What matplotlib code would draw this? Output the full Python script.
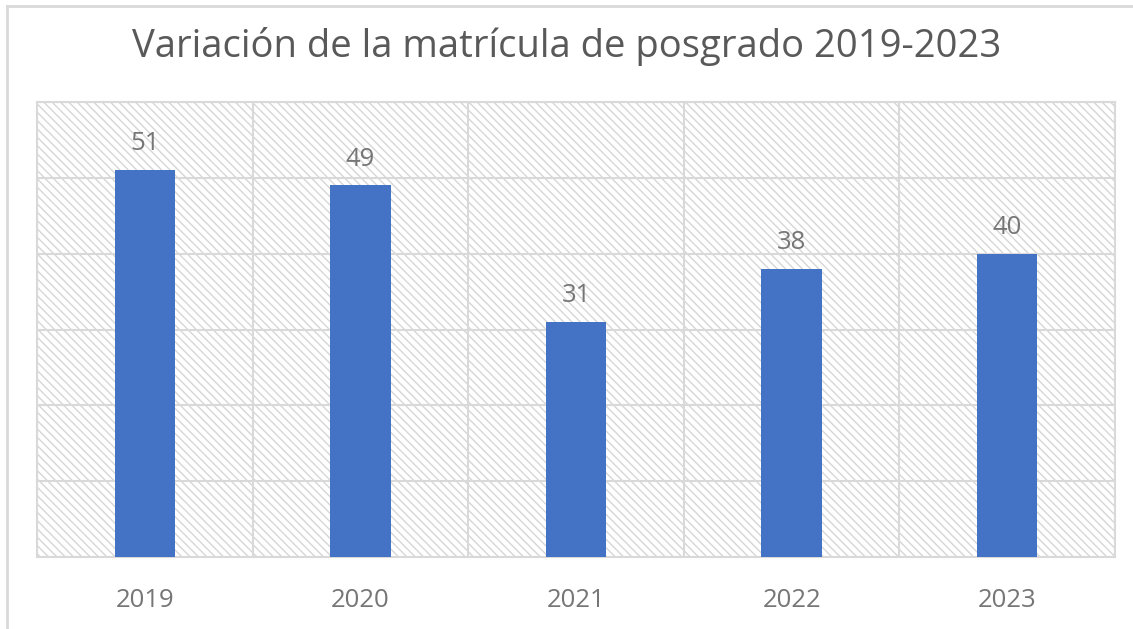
import matplotlib
matplotlib.use("Agg")
import matplotlib.pyplot as plt
from matplotlib.patches import Rectangle
from matplotlib.lines import Line2D

years = ["2019", "2020", "2021", "2022", "2023"]
values = [51, 49, 31, 38, 40]
title = "Variación de la matrícula de posgrado 2019-2023"

plt.rcParams['hatch.color'] = '#d6d6d6'
plt.rcParams['hatch.linewidth'] = 1.0
plt.rcParams['font.family'] = ['Open Sans', 'DejaVu Sans']

W, H = 1133, 629
fig = plt.figure(figsize=(W/100, H/100), dpi=100)
ax = fig.add_axes([37/W, 1-557/H, (1115-37)/W, (557-102)/H])

# hatched background
ax.add_patch(Rectangle((0, 0), 1, 1, transform=ax.transAxes, facecolor='white',
                       edgecolor='#d6d6d6', linewidth=0, hatch='\\\\\\\\', zorder=0))
ax.set_facecolor('white')

x = list(range(len(years)))
bars = ax.bar(x, values, width=0.28, color='#4472C4', zorder=3)
ax.set_xlim(-0.5, len(years)-0.5)
ax.set_ylim(0, 60)
ax.set_yticks(range(0, 61, 10))
ax.set_yticklabels([])
ax.set_xticks(x)
ax.set_xticklabels(years, fontsize=18.5, color='#767676')
ax.set_xticks([i + 0.5 for i in range(-1, len(years))], minor=True)
ax.tick_params(axis='both', which='both', length=0)
ax.tick_params(axis='x', pad=22)
ax.grid(axis='y', which='major', color='#d9d9d9', lw=1.5, zorder=1)
ax.grid(axis='x', which='minor', color='#d9d9d9', lw=1.5, zorder=1)
ax.grid(axis='x', which='major', visible=False)
for s in ax.spines.values():
    s.set_color('#d9d9d9')
    s.set_linewidth(1.5)

for b, v in zip(bars, values):
    ax.annotate(str(v), (b.get_x() + b.get_width()/2, v), xytext=(0, 10),
                textcoords='offset points', ha='center', va='bottom',
                fontsize=18.5, color='#767676')

fig.text(0.5, 1-47/H, title, ha='center', va='center', fontsize=27.5, color='#595959')

# outer border
fig.add_artist(Line2D([7/W, 1], [1-6/H, 1-6/H], color='#d9d9d9', lw=2, transform=fig.transFigure))
fig.add_artist(Line2D([7/W, 7/W], [0, 1-6/H], color='#d9d9d9', lw=2, transform=fig.transFigure))

fig.savefig("out.png", dpi=100)
